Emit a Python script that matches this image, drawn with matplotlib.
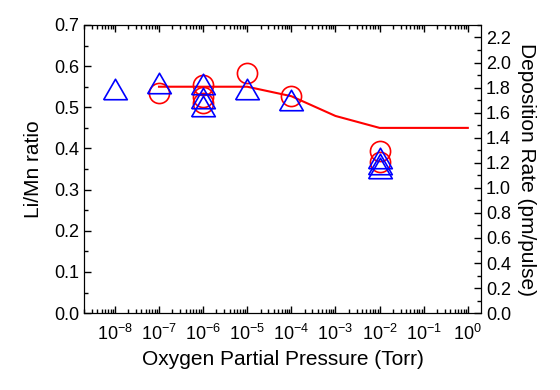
import matplotlib
matplotlib.use("Agg")
from matplotlib import pyplot as plt
from matplotlib.ticker import MultipleLocator, LogLocator, FormatStrFormatter, NullFormatter
import numpy as np

plt.rcParams['font.family'] = ['Liberation Sans', 'DejaVu Sans']
plt.rcParams['mathtext.fontset'] = 'custom'
plt.rcParams['mathtext.rm'] = 'Liberation Sans'
plt.rcParams['mathtext.it'] = 'Liberation Sans'
plt.rcParams['mathtext.bf'] = 'Liberation Sans'

# fitted trend (Li/Mn ratio)
line_p = [1e-7, 1e-6, 1e-5, 1e-4, 1e-3, 1e-2, 1e-1, 1e0]
line_ratio = [0.55, 0.55, 0.55, 0.527, 0.479, 0.45, 0.45, 0.45]

# Li/Mn ratio measurements
ratio_p = [1e-7, 1e-6, 1e-6, 1e-6, 1e-5, 1e-4, 1e-2, 1e-2]
ratio_val = [0.534, 0.554, 0.524, 0.51, 0.583, 0.527, 0.394, 0.368]

# deposition rate measurements (pm/pulse)
rate_p = [1e-8, 1e-7, 1e-6, 1e-6, 1e-6, 1e-5, 1e-4, 1e-2, 1e-2, 1e-2]
rate_val = [1.79, 1.84, 1.83, 1.72, 1.65, 1.79, 1.70, 1.24, 1.19, 1.16]

# closed equilateral triangle
tri = [(-1, -0.866), (1, -0.866), (0, 0.866), (-1, -0.866)]

fig = plt.figure(figsize=(5.6, 3.9), dpi=100)
ax = fig.add_axes([0.15, 0.197, 0.709, 0.739])
ax2 = ax.twinx()

ax.plot(line_p, line_ratio, color='#ff0000', lw=1.5, zorder=2)
ax.plot(ratio_p, ratio_val, ls='none', marker='o', ms=14.5, mfc='none',
        mec='#ff0000', mew=1.2, zorder=3)
ax2.plot(rate_p, rate_val, ls='none', marker=tri, ms=17, mfc='none',
         mec='#0000ff', mew=1.2, zorder=3)

ax.set_xscale('log')
ax.set_xlim(10 ** -8.7, 10 ** 0.3)
ax.set_ylim(0, 0.7)
ax2.set_ylim(0, 2.3)

ax.xaxis.set_major_locator(LogLocator(base=10, numticks=20))
ax.xaxis.set_minor_locator(LogLocator(base=10, subs=np.arange(2, 10), numticks=20))
ax.xaxis.set_minor_formatter(NullFormatter())
ax.yaxis.set_major_locator(MultipleLocator(0.1))
ax.yaxis.set_minor_locator(MultipleLocator(0.05))
ax2.yaxis.set_major_locator(MultipleLocator(0.2))
ax2.yaxis.set_minor_locator(MultipleLocator(0.1))
ax.yaxis.set_major_formatter(FormatStrFormatter('%.1f'))
ax2.yaxis.set_major_formatter(FormatStrFormatter('%.1f'))

ax.tick_params(axis='x', which='both', direction='in', top=True, labelsize=13, pad=8)
ax.tick_params(axis='y', which='both', direction='in', labelsize=13)
ax2.tick_params(axis='y', which='both', direction='in', labelsize=13)
for a in (ax, ax2):
    a.tick_params(which='major', length=5, width=1)
    a.tick_params(which='minor', length=3, width=1)

ax.set_xlabel('Oxygen Partial Pressure (Torr)', fontsize=15, labelpad=4)
ax.set_ylabel('Li/Mn ratio', fontsize=15, labelpad=8)
ax2.set_ylabel('Deposition Rate (pm/pulse)', fontsize=15, rotation=270, labelpad=4, va='bottom')

fig.savefig('out.png', dpi=100)
